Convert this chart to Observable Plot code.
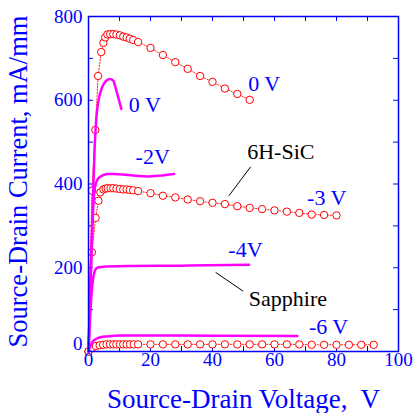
<!DOCTYPE html>
<html><head><meta charset="utf-8">
<script src="https://cdn.jsdelivr.net/npm/d3@7"></script>
<script src="https://cdn.jsdelivr.net/npm/@observablehq/plot@0.6"></script>
<style>body{margin:0;background:#fff;}</style>
</head><body><div id="chart"></div>
<script>
// 6H-SiC substrate (red open circles), Vgs = 0 V
const sic0V = [[0,0],[1.1,384],[2.2,529],[3.1,658],[4.1,715],[4.8,737],[5.4,750],[6.1,757],[7,758],[8,758],[9,757],[10.1,755],[11.2,752],[12.3,750],[13.3,747],[14.4,744],[16,739],[20,725],[24,708],[28,691],[32,675],[36,658],[40,644],[44,628],[48,615],[52,601]];
// 6H-SiC, Vgs = -3 V
const sic3V = [[0,0],[1.1,237],[2.3,319],[3.2,360],[3.8,380],[4.8,387],[5.5,389],[6.2,390],[7.1,390],[8,390],[9,389],[10.1,388],[11.2,387],[12.3,387],[13.3,386],[14.4,385],[16,383],[20,378],[24,372],[28,368],[32,363],[36,359],[40,355],[44,352],[48,347],[52,343],[56,340],[60,337],[64,334],[68,331],[72,327],[76,326],[80,325]];
// 6H-SiC, Vgs = -6 V
const sic6V = [[0,0],[1.2,9],[2.4,13],[3.6,15],[4.7,16],[5.8,17],[6.9,17],[8,17],[9,17],[10.1,17],[11.2,17],[12.3,17],[13.4,17],[14.6,17],[16,17],[20,17],[24,17],[28,17],[32,17],[36,17],[40,17],[44,17],[48,17],[52,17],[56,17],[60,17],[64,17],[68,17],[72,16],[76,16],[80,16],[84,16],[88,16],[92,16]];
// Sapphire substrate (magenta lines)
const sap0V = [[0,0],[0.5,120],[1,250],[1.5,380],[2,490],[2.5,555],[3.2,598],[4.4,631],[5.5,645],[6.9,651],[8,647],[8.7,631],[9.6,607],[10.6,579]];
const sap2V = [[0,0],[0.5,130],[1,250],[1.5,340],[2,390],[3,412],[4.4,420],[6,424],[8.2,424],[12,422],[16,419],[19,418],[23,420],[27.6,424]];
const sap4V = [[0,0],[0.5,80],[1,140],[1.5,175],[2,192],[2.8,200],[4,202],[13.6,204],[30,205],[51.8,207]];
const sap6V = [[0,0],[0.5,10],[1,20],[2,28],[3,32],[3.9,34],[6,36],[10.3,38],[30,38],[67.4,37]];

const xTickLabels = [0,20,40,60,80,100];
const yTickLabels = [0,200,400,600,800];
const xMinorTicks = [10,20,30,40,50,60,70,80,90];
const yMinorTicks = [100,200,300,400,500,600,700];

const curveLabels = ["0 V","0 V","-2V","-3 V","-4V","-6 V"];
const substrateLabels = ["6H-SiC","Sapphire"];

const blue = "#0000ff";
const red = "#ff0000";
const magenta = "#ff00ff";
const font = "'Liberation Serif', 'Times New Roman', serif";

const pts = (arr, s) => arr.map(([x, y]) => ({x, y, s}));
const sic = [...pts(sic0V, "0"), ...pts(sic3V, "-3"), ...pts(sic6V, "-6")];
const sap = [...pts(sap0V, "0"), ...pts(sap2V, "-2"), ...pts(sap4V, "-4"), ...pts(sap6V, "-6")];

const labelPos = [[51.5,621],[13,571],[15.2,448],[70.5,351],[45.1,225],[71.1,41]];
const blueLabels = curveLabels.map((t, i) => ({t, x: labelPos[i][0], y: labelPos[i][1]}));
const subPos = [[51.2,460],[51.7,108]];
const blackLabels = substrateLabels.map((t, i) => ({t, x: subPos[i][0], y: subPos[i][1]}));
const leaders = [{x1:52.3,y1:441,x2:45.3,y2:372},{x1:41,y1:189,x2:49.9,y2:144}];

const chart = Plot.plot({
  width: 414, height: 413,
  marginLeft: 88, marginRight: 16, marginTop: 16, marginBottom: 62,
  x: {domain: [0, 100], axis: null},
  y: {domain: [0, 800], axis: null},
  style: {fontFamily: font, background: "white", overflow: "visible"},
  marks: [
    Plot.ruleX(xMinorTicks, {x: d => d, y1: 0, y2: 12, stroke: blue}),
    Plot.ruleX(xMinorTicks, {x: d => d, y1: 800, y2: 788, stroke: blue}),
    Plot.ruleY(yMinorTicks, {y: d => d, x1: 0, x2: 1.6, stroke: blue}),
    Plot.ruleY(yMinorTicks, {y: d => d, x1: 100, x2: 98.4, stroke: blue}),
    Plot.line(sic, {x: "x", y: "y", z: "s", stroke: red, strokeWidth: 0.8, strokeDasharray: "1.5,1.5"}),
    Plot.dot(sic, {x: "x", y: "y", r: 3.7, stroke: red, fill: "white", strokeWidth: 1}),
    Plot.line(sap, {x: "x", y: "y", z: "s", stroke: magenta, strokeWidth: 2.5, curve: "monotone-x"}),
    Plot.frame({stroke: blue, strokeWidth: 1.5}),
    Plot.text(xTickLabels, {x: d => d, frameAnchor: "bottom", dy: 14, text: d => String(d), fill: blue, fontSize: 19}),
    Plot.text(yTickLabels.filter(d => d > 0), {y: d => d, frameAnchor: "left", dx: -6, textAnchor: "end", text: d => String(d), fill: blue, fontSize: 19}),
    Plot.text(yTickLabels.filter(d => d === 0), {y: d => d, frameAnchor: "left", dx: -6, dy: -8, textAnchor: "end", text: d => String(d), fill: blue, fontSize: 19}),
    Plot.text(blueLabels, {x: "x", y: "y", text: "t", textAnchor: "start", lineAnchor: "bottom", fill: blue, fontSize: 22}),
    Plot.text(blackLabels, {x: "x", y: "y", text: "t", textAnchor: "start", lineAnchor: "bottom", fill: "black", fontSize: 22}),
    Plot.link(leaders, {x1: "x1", y1: "y1", x2: "x2", y2: "y2", stroke: "black", strokeWidth: 1}),
    Plot.text(["Source-Drain Voltage,\u00a0 V"], {frameAnchor: "bottom", textAnchor: "middle", dy: 56, lineAnchor: "bottom", fill: blue, fontSize: 27}),
    Plot.text(["Source-Drain Current, mA/mm"], {frameAnchor: "left", textAnchor: "middle", rotate: -90, dx: -62, dy: -2.5, lineAnchor: "bottom", fill: blue, fontSize: 26.5})
  ]
});
document.getElementById("chart").append(chart);
</script>
</body></html>
